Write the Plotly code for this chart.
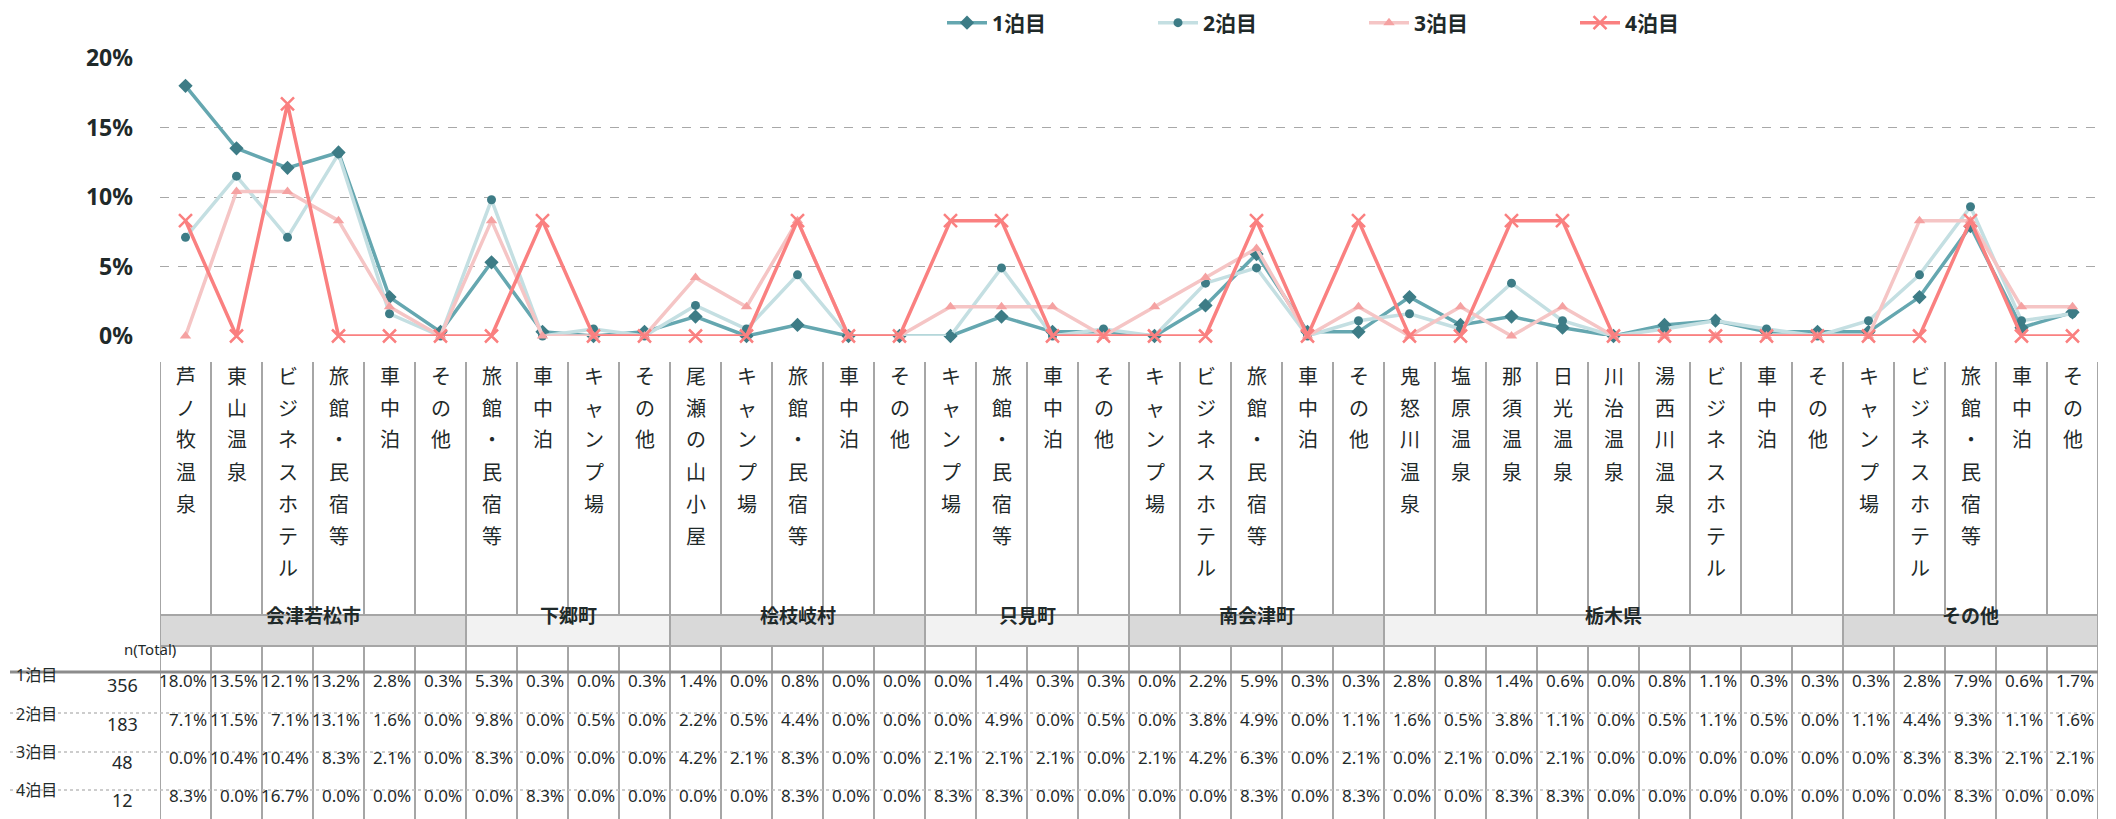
import plotly.graph_objects as go

# ---------------- data ----------------
groups = ["会津若松市", "下郷町", "桧枝岐村", "只見町", "南会津町", "栃木県", "その他"]
group_sizes = [6, 4, 5, 4, 5, 9, 5]
categories = [
    "芦ノ牧温泉", "東山温泉", "ビジネスホテル", "旅館・民宿等", "車中泊", "その他",
    "旅館・民宿等", "車中泊", "キャンプ場", "その他",
    "尾瀬の山小屋", "キャンプ場", "旅館・民宿等", "車中泊", "その他",
    "キャンプ場", "旅館・民宿等", "車中泊", "その他",
    "キャンプ場", "ビジネスホテル", "旅館・民宿等", "車中泊", "その他",
    "鬼怒川温泉", "塩原温泉", "那須温泉", "日光温泉", "川治温泉", "湯西川温泉", "ビジネスホテル", "車中泊", "その他",
    "キャンプ場", "ビジネスホテル", "旅館・民宿等", "車中泊", "その他",
]
series_names = ["1泊目", "2泊目", "3泊目", "4泊目"]
n_total = [356, 183, 48, 12]
night1 = [18.0, 13.5, 12.1, 13.2, 2.8, 0.3, 5.3, 0.3, 0.0, 0.3, 1.4, 0.0, 0.8, 0.0, 0.0,
          0.0, 1.4, 0.3, 0.3, 0.0, 2.2, 5.9, 0.3, 0.3, 2.8, 0.8, 1.4, 0.6, 0.0, 0.8, 1.1,
          0.3, 0.3, 0.3, 2.8, 7.9, 0.6, 1.7]
night2 = [7.1, 11.5, 7.1, 13.1, 1.6, 0.0, 9.8, 0.0, 0.5, 0.0, 2.2, 0.5, 4.4, 0.0, 0.0,
          0.0, 4.9, 0.0, 0.5, 0.0, 3.8, 4.9, 0.0, 1.1, 1.6, 0.5, 3.8, 1.1, 0.0, 0.5, 1.1,
          0.5, 0.0, 1.1, 4.4, 9.3, 1.1, 1.6]
night3 = [0.0, 10.4, 10.4, 8.3, 2.1, 0.0, 8.3, 0.0, 0.0, 0.0, 4.2, 2.1, 8.3, 0.0, 0.0,
          2.1, 2.1, 2.1, 0.0, 2.1, 4.2, 6.3, 0.0, 2.1, 0.0, 2.1, 0.0, 2.1, 0.0, 0.0, 0.0,
          0.0, 0.0, 0.0, 8.3, 8.3, 2.1, 2.1]
night4 = [8.3, 0.0, 16.7, 0.0, 0.0, 0.0, 0.0, 8.3, 0.0, 0.0, 0.0, 0.0, 8.3, 0.0, 0.0,
          8.3, 8.3, 0.0, 0.0, 0.0, 0.0, 8.3, 0.0, 8.3, 0.0, 0.0, 8.3, 8.3, 0.0, 0.0, 0.0,
          0.0, 0.0, 0.0, 0.0, 8.3, 0.0, 0.0]
y_ticks = [0, 5, 10, 15, 20]
y_tick_labels = ["0%", "5%", "10%", "15%", "20%"]

# ---------------- styling ----------------
OFF = 8                      # page body margin of the browser
W, H = 2116 - OFF, 819 - OFF
# positions below are in screenshot pixels
PL, PR = 160, 2098           # plot left / right
PT, PB = 58, 336             # plot top / bottom
FONT = "Noto Sans, Noto Sans CJK JP, sans-serif"
TXT = "#1f2a2a"

line_colors = ["#65a7b0", "#c4dfe2", "#f5c5c5", "#fa8080"]
marker_colors = ["#3d7c86", "#3d7c86", "#f5a2a2", "#fa8080"]
symbols = ["diamond", "circle", "triangle-up", "x-thin"]
msizes = [11, 9, 10, 13]


def py(p):
    """screenshot pixel y -> paper y"""
    return (PB - p) / (PB - PT)


def px(p):
    """screenshot pixel x -> paper x"""
    return (p - PL) / (PR - PL)


ncat = len(categories)
xs = list(range(ncat))
series = [night1, night2, night3, night4]

fig = go.Figure()
for name, vals, lc, mc, sym, ms in zip(series_names, series, line_colors, marker_colors, symbols, msizes):
    marker = dict(symbol=sym, size=ms, color=mc)
    if sym == "x-thin":
        marker["line"] = dict(color=mc, width=2.5)
    fig.add_trace(go.Scatter(
        x=xs, y=vals, name=name, mode="lines+markers",
        line=dict(color=lc, width=3.5), marker=marker, cliponaxis=False,
    ))

shapes = []
annotations = []

# column lines of the label table
GRID = "#a6a6a6"
for b in range(ncat + 1):
    shapes.append(dict(type="line", xref="x", yref="paper", x0=b - 0.5, x1=b - 0.5,
                       y0=py(362), y1=py(825), line=dict(color=GRID, width=2)))

# category labels (vertical text, one glyph per row)
CH0, CHSTEP = 376, 32
for i, c in enumerate(categories):
    for k, ch in enumerate(c):
        annotations.append(dict(x=i, y=py(CH0 + k * CHSTEP), xref="x", yref="paper",
                                yanchor="middle", xanchor="center", showarrow=False,
                                text=ch, font=dict(family=FONT, size=20, color=TXT)))

# group header row
start = 0
for gi, (g, n) in enumerate(zip(groups, group_sizes)):
    fill = "#d9d9d9" if gi % 2 == 0 else "#f2f2f2"
    shapes.append(dict(type="rect", xref="x", yref="paper", x0=start - 0.5, x1=start + n - 0.5,
                       y0=py(646), y1=py(615), fillcolor=fill, line=dict(color=GRID, width=2)))
    annotations.append(dict(x=start + (n - 1) / 2, y=py(630.5), xref="x", yref="paper",
                            showarrow=False, text=f"<b>{g}</b>",
                            font=dict(family=FONT, size=19, color=TXT)))
    start += n

# horizontal table lines
shapes.append(dict(type="line", xref="paper", yref="paper", x0=px(10), x1=1,
                   y0=py(672), y1=py(672), line=dict(color="#8c8c8c", width=3)))
for yy in [713, 752, 790]:
    shapes.append(dict(type="line", xref="paper", yref="paper", x0=px(10), x1=1,
                       y0=py(yy), y1=py(yy), line=dict(color="#bdbdbd", width=1.5, dash="dot")))

annotations.append(dict(x=px(122), y=py(661), xref="paper", yref="paper", showarrow=False,
                        text="n(Total)", font=dict(family=FONT, size=15, color=TXT)))

row_centers = [694, 733, 771, 809]
for r, (name, n, vals) in enumerate(zip(series_names, n_total, series)):
    yc = row_centers[r]
    annotations.append(dict(x=px(14), y=py(yc - 6), xref="paper", yref="paper", xanchor="left",
                            showarrow=False, text=name,
                            font=dict(family=FONT, size=16, color=TXT)))
    annotations.append(dict(x=px(122), y=py(yc + 5), xref="paper", yref="paper", xanchor="center",
                            showarrow=False, text=str(n),
                            font=dict(family=FONT, size=18, color=TXT)))
    for i, v in enumerate(vals):
        annotations.append(dict(x=i + 0.5, y=py(yc), xref="x", yref="paper", xanchor="right",
                                xshift=-2, showarrow=False, text=f"{v:.1f}%",
                                font=dict(family=FONT, size=17, color=TXT)))

fig.update_layout(
    width=W, height=H,
    margin=dict(l=PL - OFF, r=(W + OFF) - PR, t=PT - OFF, b=(H + OFF) - PB, pad=0,
                autoexpand=False),
    paper_bgcolor="white", plot_bgcolor="white",
    showlegend=True,
    legend=dict(orientation="h", xref="container", yref="container",
                x=(942 - OFF) / W, xanchor="left", y=1 - (23 - OFF) / H, yanchor="middle",
                font=dict(family=FONT, size=21, color=TXT, weight="bold"),
                entrywidth=156, entrywidthmode="pixels", itemwidth=40,
                bgcolor="rgba(0,0,0,0)", tracegroupgap=0),
    xaxis=dict(range=[-0.5, ncat - 0.5], showticklabels=False, showgrid=False,
               zeroline=False, showline=False, fixedrange=True),
    yaxis=dict(range=[0, 20], tickvals=y_ticks, ticktext=y_tick_labels,
               showgrid=True, gridcolor="#a8a8a8", griddash="dash", gridwidth=1.2,
               zeroline=False, showline=False, ticks="", ticklabelstandoff=26,
               tickfont=dict(family=FONT, size=23, color=TXT, weight="bold")),
    shapes=shapes, annotations=annotations,
)

fig.write_html("out.html")
